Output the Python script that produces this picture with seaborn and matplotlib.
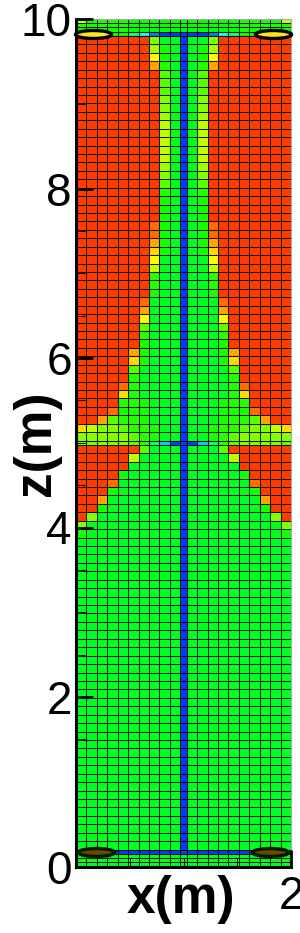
import numpy as np
import pandas as pd
import matplotlib
matplotlib.use('Agg')
import matplotlib.pyplot as plt
from matplotlib.colors import LinearSegmentedColormap
from matplotlib.path import Path
from matplotlib.transforms import Affine2D
import seaborn as sns

# colour levels, 0 = blue, 1 = red
levels = {'r': .941, 'o': .892, 'a': .838, 'd': .789, 'y': .75, 'l': .686, 'n': .657,
          'k': .627, 'm': .588, 'h': .539, 'i': .52, 'q': .5, 'g': .47, 't': .375,
          'c': .25, 's': .196, 'u': .118, 'b': .059}

# left half of each row, col 10 is the centre column. top to bottom
top_rows = ['liiiiqqqqqq',
            'iiiiiqqqqqq',
            'iiiiiqqqqqq',
            'qqqqqtcubbb']
upper_rows = ['rrrrrrrkggb', 'rrrrrrrnigb', 'rrrrrrryigb', 'rrrrrrrahgb',
              'rrrrrrrrmgb', 'rrrrrrrrmgb', 'rrrrrrrrmgb', 'rrrrrrrrkgb',
              'rrrrrrrrkgb', 'rrrrrrrrngb', 'rrrrrrrrlgb', 'rrrrrrrrlgb',
              'rrrrrrrrlgb', 'rrrrrrrrlgb', 'rrrrrrrrlgb', 'rrrrrrrrngb',
              'rrrrrrrrkgb', 'rrrrrrrrmgb', 'rrrrrrrrhgb', 'rrrrrrrrigb',
              'rrrrrrrrigb', 'rrrrrrrrigb', 'rrrrrrroigb', 'rrrrrrroigb',
              'rrrrrrraigb', 'rrrrrrrdigb', 'rrrrrrryggb', 'rrrrrrrlggb',
              'rrrrrrrhggb', 'rrrrrrrhggb', 'rrrrrrriggb', 'rrrrrrogggb',
              'rrrrrragggb', 'rrrrrrygggb', 'rrrrrrmgggb', 'rrrrrrhgggb',
              'rrrrrrigggb', 'rrrrraigggb', 'rrrrrdigggb', 'rrrrrmggggb',
              'rrrrrhggggb', 'rrrrohggggb', 'rrrrdhggggb', 'rrrrhhigggb',
              'rrroiiigggb', 'rramhhigggb', 'dlkkmhhiggb', 'kkkkkmhiggb']
middle_row = ['mkkkkmhtsbb']
lower_rows = ['rrrrrrmgggb', 'rrrrrlggggb', 'rrrrrgggggb', 'rrrrigggggb',
              'rrroggggggb', 'rrriggggggb', 'rragggggggb', 'rrigggggggb',
              'rkggggggggb', 'kgggggggggb', 'igggggggggb'] + ['ggggggggggb'] * 37
bottom_rows = ['bbbbbbbbbbb', 'ggggggggggg', 'ggggggggggg', 'ggggggggggg']

x_ticks = [0, 2]
x_minor = [0.5, 1, 1.5]
z_ticks = [0, 2, 4, 6, 8, 10]
z_minor = [0.5, 1, 1.5, 2.5, 3, 3.5, 4.5, 5, 5.5, 6.5, 7, 7.5, 8.5, 9, 9.5]

# ellipses: x, z
top_holes_x = [0.155, 1.83]
top_holes_z = [9.82, 9.82]
bottom_holes_x = [0.186, 1.80]
bottom_holes_z = [0.175, 0.175]

# cell edges, the mesh is not uniform
x_edges = np.r_[np.linspace(0, 0.97, 11), np.linspace(1.03, 2, 11)]
z_edges = np.r_[0, 0.05, 0.1, 0.15, np.linspace(0.2, 4.975, 49),
                np.linspace(5.025, 9.8, 49), 9.85, 9.9, 9.95, 10]

rows = top_rows + upper_rows + middle_row + lower_rows + bottom_rows
half = np.array([[levels[c] for c in r] for r in rows])
field = np.hstack([half, half[:, -2::-1]])[::-1]
df = pd.DataFrame(field)

cmap = LinearSegmentedColormap.from_list('tec', ['#0000ff', '#00ffff', '#00ff00', '#ffff00', '#ff0000'])

sns.set_style('ticks')
plt.rcParams['font.family'] = ['Liberation Sans', 'DejaVu Sans']
plt.rcParams['text.color'] = 'k'
plt.rcParams['axes.labelcolor'] = 'k'
plt.rcParams['xtick.labelcolor'] = 'k'
plt.rcParams['ytick.labelcolor'] = 'k'

fig = plt.figure(figsize=(3, 9.33), dpi=100)
ax = fig.add_axes([76 / 300, (933 - 866.5) / 933, 215 / 300, 847.5 / 933])
sns.heatmap(df, ax=ax, cmap=cmap, vmin=0, vmax=1, cbar=False, linewidths=0.62, linecolor='k',
            antialiased=True, xticklabels=False, yticklabels=False)

# index -> metres, so the heatmap cells get their real sizes
ix = np.arange(len(x_edges))
iz = np.arange(len(z_edges))
ax.set_xscale('function', functions=(lambda v: np.interp(v, ix, x_edges), lambda v: np.interp(v, x_edges, ix)))
ax.set_yscale('function', functions=(lambda v: np.interp(v, iz, z_edges), lambda v: np.interp(v, z_edges, iz)))
ax.set_xlim(0, len(x_edges) - 1)
ax.set_ylim(0, len(z_edges) - 1)
ax.set_axisbelow(False)

ax.set_xticks(np.interp(x_ticks, x_edges, ix))
ax.set_xticklabels(['', '2'])
ax.set_xticks(np.interp(x_minor, x_edges, ix), minor=True)
ax.set_yticks(np.interp(z_ticks, z_edges, iz))
ax.set_yticklabels([str(z) for z in z_ticks])
ax.set_yticks(np.interp(z_minor, z_edges, iz), minor=True)
ax.tick_params(which='major', direction='in', length=12.2, width=2, labelsize=33, color='k', labelcolor='k', pad=3)
ax.tick_params(axis='x', which='major', pad=6)
ax.tick_params(which='minor', direction='in', length=6.5, width=0.7, color='k')
for lab in ax.get_xticklabels() + ax.get_yticklabels():
    lab.set_clip_on(False)

oval = Path.unit_circle().transformed(Affine2D().scale(1, 0.22))
ax.plot(np.interp(top_holes_x, x_edges, ix), np.interp(top_holes_z, z_edges, iz), ls='none',
        marker=oval, ms=26, mfc='#ffe61e', mec='k', mew=2.4, clip_on=False, zorder=5)
ax.plot(np.interp(bottom_holes_x, x_edges, ix), np.interp(bottom_holes_z, z_edges, iz), ls='none',
        marker=oval, ms=26, mfc='#5a5000', mec='#0a1400', mew=2.4, clip_on=False, zorder=5)

ax.set_xlabel('x(m)', fontsize=37, fontweight='bold', color='k')
ax.set_ylabel('z(m)', fontsize=37, fontweight='bold', color='k')
ax.xaxis.set_label_coords(0.49, -0.010, transform=ax.transAxes)
ax.xaxis.label.set_va('top')
ax.yaxis.set_label_coords(-0.07, 0.5, transform=ax.transAxes)

for s in ['top', 'right']:
    ax.spines[s].set_visible(True)
    ax.spines[s].set_color('#aaaaaa')
    ax.spines[s].set_linewidth(0.8)
for s in ['left', 'bottom']:
    ax.spines[s].set_visible(True)
    ax.spines[s].set_color('k')
    ax.spines[s].set_linewidth(2.2)

plt.savefig('out.png', dpi=100)
